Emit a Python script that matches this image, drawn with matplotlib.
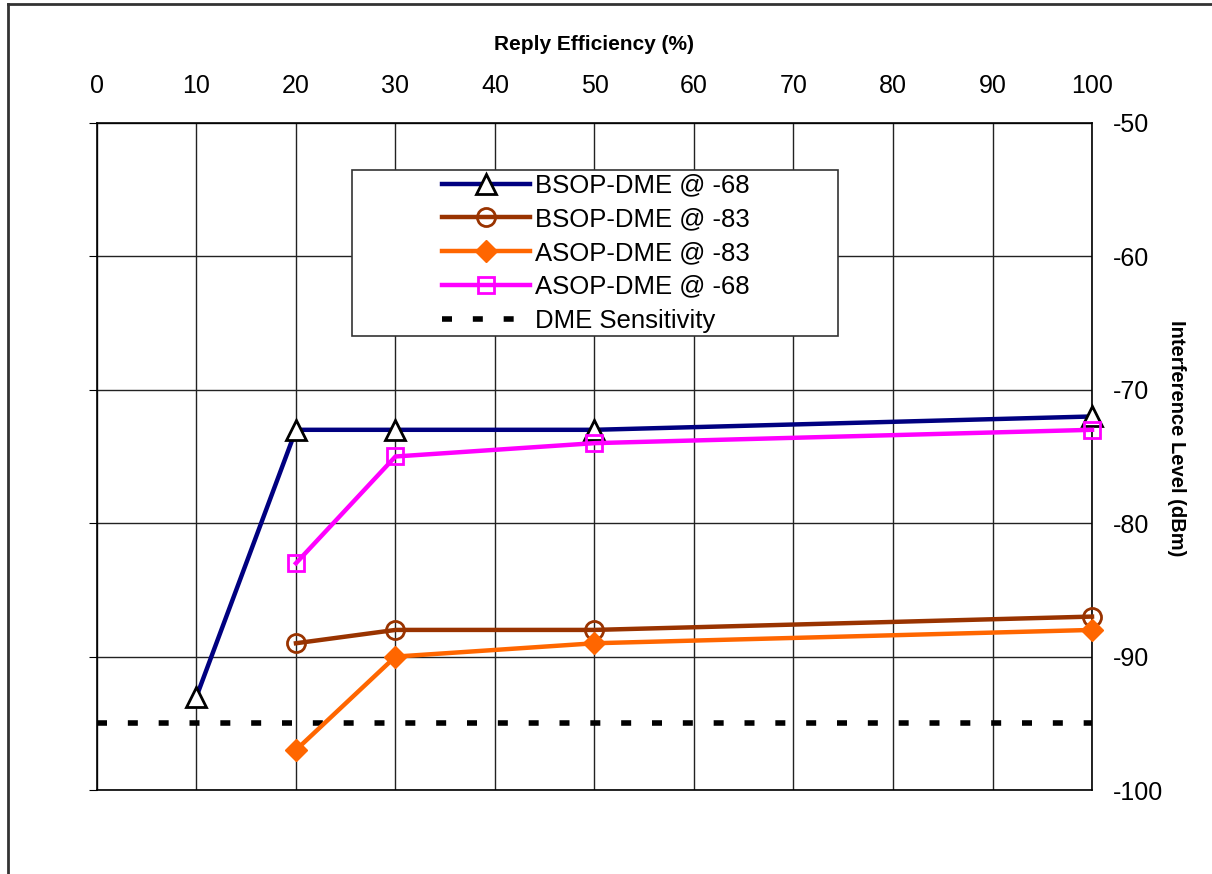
import matplotlib
matplotlib.use('Agg')
import matplotlib.pyplot as plt
from matplotlib.lines import Line2D
from matplotlib.patches import Rectangle

plt.rcParams['font.family'] = ['Liberation Sans', 'DejaVu Sans']
plt.rcParams['axes.unicode_minus'] = False

# reply efficiency (%)
x_bsop68 = [10, 20, 30, 50, 100]
y_bsop68 = [-93, -73, -73, -73, -72]
x_rest = [20, 30, 50, 100]
y_bsop83 = [-89, -88, -88, -87]
y_asop83 = [-97, -90, -89, -88]
y_asop68 = [-83, -75, -74, -73]
sens_x = [0, 100]
sens_y = [-95, -95]

xticks = list(range(0, 101, 10))
yticks = list(range(-100, -49, 10))

fig = plt.figure(figsize=(12.12, 8.74), dpi=100)
ax = fig.add_axes([0.080, 0.0961, 0.821, 0.7632])

ax.plot(x_bsop68, y_bsop68, color='#000080', lw=3.2, marker='^', ms=14,
        mfc='white', mec='black', mew=2, label='BSOP-DME @ -68', zorder=4, clip_on=False)
ax.plot(x_rest, y_bsop83, color='#993300', lw=3.2, marker='o', ms=13,
        mfc='none', mec='#993300', mew=2, label='BSOP-DME @ -83', zorder=4, clip_on=False)
ax.plot(x_rest, y_asop83, color='#FF6600', lw=3.2, marker='D', ms=11,
        mfc='#FF6600', mec='#FF6600', label='ASOP-DME @ -83', zorder=4, clip_on=False)
ax.plot(x_rest, y_asop68, color='#FF00FF', lw=3.2, marker='s', ms=12,
        mfc='none', mec='#FF00FF', mew=2, label='ASOP-DME @ -68', zorder=4, clip_on=False)
ax.plot(sens_x, sens_y, color='black', lw=4, dashes=(1.8, 3.75),
        label='DME Sensitivity', zorder=3, clip_on=False)

ax.set_xlim(0, 100)
ax.set_ylim(-100, -50)
ax.set_xticks(xticks)
ax.set_yticks(yticks)
ax.grid(True, color='#222222', lw=1)

ax.xaxis.tick_top()
ax.xaxis.set_label_position('top')
ax.tick_params(axis='x', length=0, pad=18, labelsize=18)
ax.tick_params(axis='y', left=True, right=False, labelleft=False, labelright=True,
               direction='out', length=6, pad=9, labelsize=18)
ax.yaxis.set_label_position('right')
ax.set_xlabel('Reply Efficiency (%)', fontsize=15, fontweight='bold', labelpad=17.5)
ax.set_ylabel('Interference Level (dBm)', fontsize=14.5, fontweight='bold',
              rotation=-90, ha='center', va='center')
ax.yaxis.set_label_coords(1.0854, 0.528)
for s in ax.spines.values():
    s.set_color('black')
    s.set_linewidth(1.2)

# legend frame drawn separately so it can be wider than its content
ax.add_patch(Rectangle((0.2563, 0.6807), 0.4884, 0.2488, transform=ax.transAxes,
                       facecolor='white', edgecolor='#333333', lw=1.2, zorder=5))
leg = ax.legend(loc='center', bbox_to_anchor=(0.5015, 0.805), fontsize=18.5,
                handlelength=3.4, handletextpad=0.2, labelspacing=0.38,
                frameon=False, borderpad=0, borderaxespad=0)
leg.set_zorder(6)

# outer chart frame (cut at right and bottom)
fig.add_artist(Line2D([0.0062, 0.0062], [0, 0.9955], color='#333333', lw=2))
fig.add_artist(Line2D([0.0062, 1.0], [0.9955, 0.9955], color='#333333', lw=2))

fig.savefig('out.png', dpi=100)
